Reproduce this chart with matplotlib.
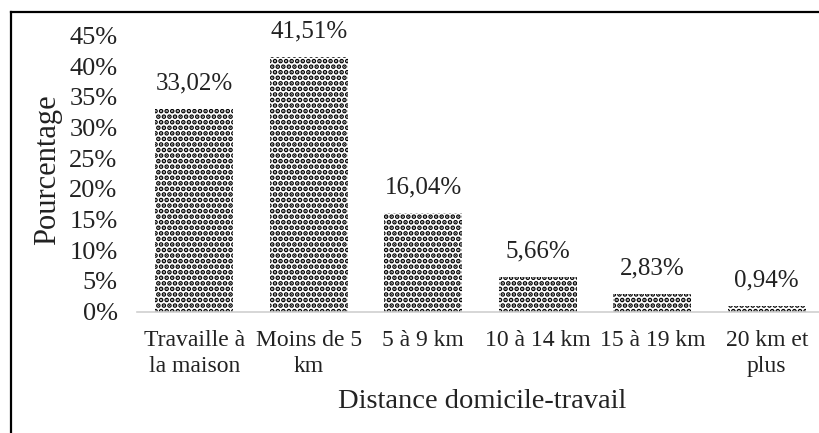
import matplotlib
matplotlib.use("Agg")
import matplotlib.pyplot as plt
from matplotlib.lines import Line2D

categories = ["Travaille à\nla maison", "Moins de 5\nkm", "5 à 9 km",
              "10 à 14 km", "15 à 19 km", "20 km et\nplus"]
values = [33.02, 41.51, 16.04, 5.66, 2.83, 0.94]
yticks = [0, 5, 10, 15, 20, 25, 30, 35, 40, 45]

plt.rcParams['font.family'] = ['Liberation Serif', 'DejaVu Serif']
plt.rcParams['hatch.linewidth'] = 2.4
plt.rcParams['hatch.color'] = 'black'

W, H = 819, 433
fig = plt.figure(figsize=(W / 100, H / 100), dpi=100)
left, right = 137 / W, 824 / W
bottom, top = 1 - 311.5 / H, 1 - 35.5 / H
ax = fig.add_axes([left, bottom, right - left, top - bottom])

x = list(range(len(categories)))
ax.bar(x, values, width=0.68, facecolor='white', edgecolor='black', hatch='...', linewidth=0)

for xi, v in zip(x, values):
    ax.annotate(f"{v:.2f}%".replace('.', ','), (xi, v), xytext=(0, 10.5),
                textcoords='offset points', ha='center', va='bottom', fontsize=18, color='#222222')

ax.set_xlim(-0.5, len(categories) - 0.5)
ax.set_ylim(0, 45)
ax.set_yticks(yticks)
ax.set_yticklabels([f"{t}%" for t in yticks], fontsize=19, color='#222222')
ax.set_xticks(x)
ax.set_xticklabels(categories, fontsize=17, color='#222222', linespacing=1.35)
ax.tick_params(axis='y', length=0, pad=14)
ax.tick_params(axis='x', length=0, pad=13)
for s in ['top', 'right', 'left']:
    ax.spines[s].set_visible(False)
ax.spines['bottom'].set_color('#d0d0d0')
ax.spines['bottom'].set_linewidth(1.2)

fig.text(482 / W, 1 - 401 / H, "Distance domicile-travail", fontsize=20.5,
         ha='center', va='center', color='#222222')
fig.text(48 / W, 1 - 170 / H, "Pourcentage", fontsize=22, rotation=90,
         ha='center', va='center', color='#222222')

# outer frame lines (top and left)
fig.add_artist(Line2D([11 / W, 1.0], [1 - 12 / H, 1 - 12 / H], transform=fig.transFigure,
                      color='black', linewidth=1.6))
fig.add_artist(Line2D([11 / W, 11 / W], [1 - 12 / H, 0], transform=fig.transFigure,
                      color='black', linewidth=1.6))

fig.savefig("out.png", dpi=100)
